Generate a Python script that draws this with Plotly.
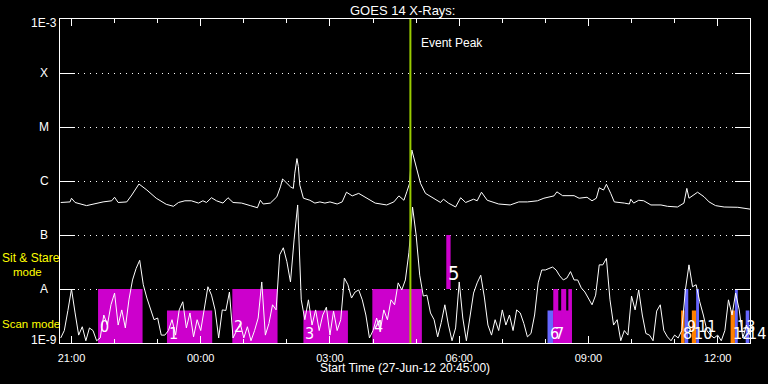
import plotly.graph_objects as go
import pandas as pd
from datetime import datetime
import math

# ---------------- data ----------------
RANGE_START = "2012-06-27 20:44"
RANGE_END = "2012-06-28 12:45"
SERIES_START = "2012-06-27 20:45"

# GOES 14 long channel (1-8 A), W/m^2
long_times = [
    "20:45", "20:58", "21:00", "21:05", "21:21", "21:35", "21:44", "21:56", "22:00", "22:05",
    "22:17", "22:24", "22:34", "22:45", "22:58", "23:12", "23:22", "23:29", "23:38", "23:47",
    "23:57", "00:03", "00:08", "00:15", "00:22", "00:31", "00:38", "00:45", "00:57", "01:09",
    "01:19", "01:23", "01:27", "01:37", "01:46", "01:51", "01:54", "02:05", "02:09", "02:11",
    "02:14", "02:16", "02:18", "02:23", "02:32", "02:39", "02:46", "02:53", "03:00", "03:10",
    "03:17", "03:23", "03:31", "03:40", "03:49", "04:03", "04:19", "04:29", "04:36", "04:43",
    "04:47", "04:51", "04:54", "04:59", "05:06", "05:13", "05:24", "05:34", "05:38", "05:45",
    "05:55", "06:02", "06:09", "06:20", "06:25", "06:31", "06:39", "06:46", "06:55", "07:11",
    "07:23", "07:35", "07:49", "07:58", "08:12", "08:16", "08:24", "08:40", "08:47", "08:58",
    "09:05", "09:11", "09:15", "09:21", "09:25", "09:31", "09:36", "09:50", "09:57", "09:59",
    "10:03", "10:10", "10:17", "10:27", "10:41", "10:50", "11:04", "11:13", "11:17", "11:20",
    "11:32", "11:41", "11:48", "11:57", "12:09", "12:28", "12:46",
]
long_flux = [
    4.0e-7, 4.1e-7, 4.8e-7, 4.0e-7, 3.5e-7, 3.9e-7, 4.1e-7, 4.3e-7, 5.0e-7, 4.0e-7,
    4.1e-7, 5.5e-7, 8.8e-7, 6.8e-7, 4.8e-7, 3.7e-7, 3.4e-7, 4.0e-7, 4.3e-7, 4.3e-7,
    3.9e-7, 4.3e-7, 4.0e-7, 4.9e-7, 4.3e-7, 3.9e-7, 4.9e-7, 4.0e-7, 3.9e-7, 3.5e-7,
    3.2e-7, 4.4e-7, 3.75e-7, 3.9e-7, 5.1e-7, 7.8e-7, 1.09e-6, 7.8e-7, 7.3e-7, 1.4e-6,
    2.6e-6, 1.84e-6, 8.4e-7, 4.8e-7, 4.4e-7, 3.9e-7, 4.1e-7, 3.9e-7, 4.1e-7, 3.75e-7,
    4.1e-7, 6.2e-7, 5.3e-7, 5.9e-7, 5.0e-7, 3.9e-7, 3.6e-7, 4.1e-7, 5.3e-7, 4.4e-7,
    6.3e-7, 9.1e-7, 3.75e-6, 1.98e-6, 9.1e-7, 5.9e-7, 4.8e-7, 4.0e-7, 4.6e-7, 3.9e-7,
    3.3e-7, 4.9e-7, 4.0e-7, 4.6e-7, 4.3e-7, 6.2e-7, 4.4e-7, 4.1e-7, 3.75e-7, 3.6e-7,
    4.1e-7, 4.1e-7, 4.3e-7, 4.8e-7, 5.3e-7, 6.3e-7, 5.35e-7, 5.35e-7, 4.8e-7, 5.0e-7,
    4.3e-7, 4.8e-7, 7.5e-7, 6.8e-7, 8.7e-7, 5.9e-7, 4.1e-7, 3.9e-7, 3.75e-7, 4.6e-7,
    3.9e-7, 4.4e-7, 4.3e-7, 3.6e-7, 3.6e-7, 3.4e-7, 3.3e-7, 3.9e-7, 7.3e-7, 4.8e-7,
    6.2e-7, 5.1e-7, 4.1e-7, 3.5e-7, 3.3e-7, 3.26e-7, 3.0e-7,
]

# GOES 14 short channel (0.5-4 A), 5-minute samples from SERIES_START
short_step = "5min"
short_flux = [
    1.24e-9, 1.7e-9, 4.0e-9, 1.0e-8, 3.6e-9, 1.4e-9, 2.0e-9, 1.1e-9, 1.9e-9, 1.7e-9,
    1.1e-9, 1.24e-9, 3.3e-9, 2.15e-9, 5.1e-9, 8.4e-9, 2.15e-9, 4.1e-9, 1.9e-9, 6.3e-9,
    1.47e-8, 2.4e-8, 3.4e-8, 1.2e-8, 6.8e-9, 4.1e-9, 2.7e-9, 2.9e-9, 1.4e-9, 1.4e-9,
    1.7e-9, 2.7e-9, 1.4e-9, 4.1e-9, 5.8e-9, 1.9e-9, 3.6e-9, 1.3e-9, 2.7e-9, 1.7e-9,
    4.1e-9, 1.1e-8, 7.7e-9, 4.1e-9, 1.24e-9, 4.1e-9, 4.0e-9, 8.8e-9, 1.24e-9, 1.7e-9,
    2.3e-9, 1.24e-9, 2.0e-9, 1.1e-9, 1.7e-9, 2.9e-9, 1.35e-8, 1.4e-9, 2.3e-9, 5.1e-9,
    4.1e-9, 4.3e-8, 5.8e-8, 3.2e-8, 1.35e-8, 8.1e-8, 3.6e-7, 6.3e-9, 2.7e-9, 6.3e-9,
    2.15e-9, 4.1e-9, 1.7e-9, 3.3e-9, 4.6e-9, 1.4e-9, 3.9e-9, 1.7e-9, 2.7e-9, 1.6e-8,
    1.2e-8, 6.8e-9, 8.8e-9, 9.6e-9, 6.3e-9, 3.3e-9, 1.24e-9, 1.7e-9, 2.9e-9, 1.7e-9,
    4.1e-9, 2.7e-9, 6.3e-9, 5.1e-9, 1.3e-8, 9.6e-9, 1.47e-8, 4.8e-8, 3.3e-7, 1.0e-7,
    1.8e-8, 7.4e-9, 7.7e-9, 3.6e-9, 2.7e-9, 1.3e-9, 2.4e-9, 5.1e-9, 2.15e-9, 1.1e-9,
    1.9e-9, 1.35e-8, 2.9e-9, 1.1e-9, 3.3e-9, 8.4e-9, 1.3e-8, 1.8e-8, 7.1e-9, 2.15e-9,
    1.4e-9, 2.7e-9, 1.7e-9, 4.1e-9, 2.15e-9, 3.3e-9, 1.7e-9, 4.1e-9, 3.6e-9, 2.3e-9,
    1.3e-9, 1.5e-9, 3.3e-9, 1.3e-8, 2.25e-8, 2.25e-8, 2.4e-8, 2.55e-8, 2.25e-8, 1.75e-8,
    1.47e-8, 1.6e-8, 2.1e-8, 1.47e-8, 1.47e-8, 1.05e-8, 8.8e-9, 6.8e-9, 5.1e-9, 7.7e-9,
    2.8e-8, 2.8e-8, 3.7e-8, 6.3e-9, 2.15e-9, 2.7e-9, 1.1e-9, 1.7e-9, 1.4e-9, 7.4e-9,
    4.1e-9, 9.6e-9, 3.3e-9, 1.5e-9, 1.4e-9, 1.1e-9, 3.9e-9, 5.1e-9, 1.7e-9, 1.3e-9,
    1.1e-9, 1.4e-9, 1.24e-9, 1.7e-9, 9.6e-9, 2.8e-8, 1.1e-8, 1.2e-8, 5.8e-9, 3.3e-9,
    1.7e-9, 1.4e-9, 1.24e-9, 1.4e-9, 1.1e-9, 1.7e-9, 6.3e-9, 3.3e-9, 8.4e-9, 4.1e-9,
    1.24e-9, 2.15e-9, 1.4e-9,
]

# observation-mode bars
bar_start = ["21:37", "23:13", "00:44", "02:23", "03:59", "05:42", "08:03", "08:11", "08:11",
             "08:22", "08:32", "11:09", "11:14", "11:24", "11:30", "12:18", "12:24", "12:39"]
bar_end = ["22:39", "00:16", "01:47", "03:25", "05:08", "05:48", "08:11", "08:37", "08:18",
           "08:29", "08:37", "11:14", "11:19", "11:30", "11:34", "12:24", "12:28", "12:44"]
bar_bottom = [1e-9, 1e-9, 1e-9, 1e-9, 1e-9, 1e-8, 1e-9, 1e-9, 1e-9,
              1e-9, 1e-9, 1e-9, 1e-9, 1e-9, 1e-9, 1e-9, 1e-9, 1e-9]
bar_top = [1e-8, 4e-9, 1e-8, 4e-9, 1e-8, 1e-7, 4e-9, 4e-9, 1e-8,
           1e-8, 1e-8, 4e-9, 1e-8, 4e-9, 1e-8, 4e-9, 1e-8, 4e-9]
bar_color = ["#CC00CC", "#CC00CC", "#CC00CC", "#CC00CC", "#CC00CC", "#CC00CC", "#6666FF", "#CC00CC", "#CC00CC",
             "#CC00CC", "#CC00CC", "#FF8000", "#6666FF", "#FF8000", "#6666FF", "#FF8000", "#6666FF", "#6666FF"]
bar_label = ["0", "1", "2", "3", "4", "5", "6", "7", "", "", "", "8", "9", "10", "11", "12", "13", "14"]
bar_mode = ["scan", "scan", "scan", "scan", "scan", "sit", "scan", "scan", "scan",
            "scan", "scan", "scan", "scan", "scan", "scan", "scan", "scan", "scan"]

event_peak_time = "04:52"

level_values = [1e-3, 1e-4, 1e-5, 1e-6, 1e-7, 1e-8, 1e-9]
level_labels = ["1E-3", "X", "M", "C", "B", "A", "1E-9"]


# ---------------- helpers ----------------
def clock(hhmm):
    h, m = map(int, hhmm.split(":"))
    day = 27 if h >= 20 else 28
    return datetime(2012, 6, day, h, m)


def px_x(px):
    return (px - 60) / 690.0


def px_y(py):
    return (343 - py) / 324.0


WHITE = "white"
YELLOW = "#FFFF00"
FONT = "Liberation Sans, Arial, sans-serif"
LABEL_FONT = "Liberation Sans Narrow, DejaVu Sans Condensed, Liberation Sans, sans-serif"

short_times = pd.date_range(SERIES_START, periods=len(short_flux), freq=short_step)
long_dt = [clock(t) for t in long_times]

fig = go.Figure()
fig.add_trace(go.Scatter(x=short_times, y=short_flux, mode="lines",
                         line=dict(color=WHITE, width=1), hoverinfo="skip"))
fig.add_trace(go.Scatter(x=long_dt, y=long_flux, mode="lines",
                         line=dict(color=WHITE, width=1), hoverinfo="skip"))

shapes = []
annotations = []
for s, e, b, t, c, lab, mode in zip(bar_start, bar_end, bar_bottom, bar_top,
                                     bar_color, bar_label, bar_mode):
    shapes.append(dict(type="rect", xref="x", yref="y", x0=clock(s), x1=clock(e),
                       y0=b, y1=t, fillcolor=c, line=dict(width=0), layer="between"))
    if lab:
        lb, lt = math.log10(b), math.log10(t)
        annotations.append(dict(x=clock(s), y=lb + 0.3 * (lt - lb), xref="x", yref="y",
                                text=lab, showarrow=False, xanchor="left", yanchor="middle",
                                font=dict(family=LABEL_FONT, size=20 if mode == "sit" else 16,
                                          color=WHITE, weight=300)))

ev = clock(event_peak_time)
shapes.append(dict(type="line", xref="x", yref="paper", x0=ev, x1=ev, y0=0, y1=1,
                   line=dict(color="#99CC00", width=2), layer="above"))

# level labels on the left
level_pos = {"1E-3": -3.074, "1E-9": -8.944}
for v, lab in zip(level_values, level_labels):
    if lab in level_pos:
        annotations.append(dict(x=px_x(59), y=level_pos[lab], xref="paper", yref="y",
                                text=lab, showarrow=False, xanchor="right", yanchor="middle",
                                font=dict(family=FONT, size=12, color=WHITE)))
    else:
        annotations.append(dict(x=px_x(44), y=math.log10(v), xref="paper", yref="y",
                                text=lab, showarrow=False, xanchor="center", yanchor="middle",
                                font=dict(family=FONT, size=12, color=WHITE)))

annotations += [
    dict(x=px_x(0), y=px_y(258), xref="paper", yref="paper", text="Sit & Stare",
         showarrow=False, xanchor="left", yanchor="middle",
         font=dict(family=FONT, size=12, color=YELLOW)),
    dict(x=px_x(11), y=px_y(272), xref="paper", yref="paper", text="mode",
         showarrow=False, xanchor="left", yanchor="middle",
         font=dict(family=FONT, size=11.5, color=YELLOW)),
    dict(x=px_x(0), y=px_y(323.5), xref="paper", yref="paper", text="Scan mode",
         showarrow=False, xanchor="left", yanchor="middle",
         font=dict(family=FONT, size=11.5, color=YELLOW)),
    dict(x=px_x(402), y=px_y(10), xref="paper", yref="paper", text="GOES 14 X-Rays:",
         showarrow=False, xanchor="center", yanchor="middle",
         font=dict(family=FONT, size=13, color=WHITE)),
    dict(x=ev, y=px_y(43), xref="x", yref="paper", text="Event Peak", xshift=9,
         showarrow=False, xanchor="left", yanchor="middle",
         font=dict(family=FONT, size=12, color=WHITE)),
    dict(x=px_x(405), y=px_y(368), xref="paper", yref="paper",
         text="Start Time (27-Jun-12 20:45:00)",
         showarrow=False, xanchor="center", yanchor="middle",
         font=dict(family=FONT, size=12, color=WHITE)),
]

fig.update_layout(
    width=768, height=384,
    margin=dict(l=60, r=18, t=19, b=41),
    paper_bgcolor="black", plot_bgcolor="black",
    showlegend=False,
    font=dict(family=FONT, color=WHITE, size=11),
    shapes=shapes, annotations=annotations,
    xaxis=dict(
        type="date", range=[RANGE_START, RANGE_END],
        showline=True, linecolor=WHITE, linewidth=1, mirror="ticks",
        ticks="inside", ticklen=7, tickcolor=WHITE, tickwidth=1,
        tick0="2012-06-27 21:00", dtick=3 * 3600 * 1000, tickformat="%H:%M",
        tickfont=dict(family=FONT, size=11, color=WHITE), ticklabelstandoff=5,
        minor=dict(dtick=3600 * 1000, ticks="inside", ticklen=4, tickcolor=WHITE, showgrid=False),
        showgrid=False, zeroline=False,
    ),
    yaxis=dict(
        type="log", range=[-9, -3],
        showline=True, linecolor=WHITE, linewidth=1, mirror="ticks",
        ticks="inside", ticklen=15, tickcolor=WHITE, tickwidth=1,
        tickvals=level_values, showticklabels=False,
        showgrid=True, gridcolor=WHITE, gridwidth=1, griddash="1px,5px",
        zeroline=False,
    ),
)

fig.write_html(
    "out.html",
    config={"displayModeBar": False},
    post_script="document.body.style.margin='0';document.body.style.background='black';",
)
